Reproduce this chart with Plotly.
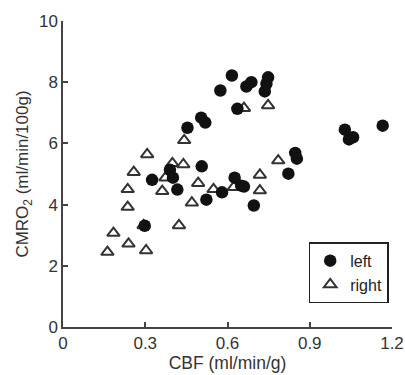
import plotly.graph_objects as go

left_x = [0.616, 0.574, 0.669, 0.687, 0.748, 0.742, 0.736, 0.636, 0.454, 0.504,
          0.519, 1.028, 1.043, 1.058, 1.166, 0.847, 0.853, 0.822, 0.506, 0.325,
          0.390, 0.401, 0.417, 0.523, 0.580, 0.626, 0.660, 0.650, 0.696, 0.298]
left_y = [8.22, 7.73, 7.86, 8.00, 8.16, 7.95, 7.70, 7.13, 6.51, 6.84,
          6.68, 6.45, 6.13, 6.20, 6.58, 5.69, 5.50, 5.01, 5.25, 4.81,
          5.14, 4.88, 4.49, 4.16, 4.40, 4.88, 4.59, 4.62, 3.97, 3.31]

right_x = [0.162, 0.184, 0.239, 0.303, 0.236, 0.236, 0.258, 0.307, 0.294, 0.362,
           0.374, 0.399, 0.439, 0.442, 0.423, 0.470, 0.493, 0.549, 0.623, 0.660,
           0.748, 0.718, 0.718, 0.785]
right_y = [2.45, 3.07, 2.72, 2.50, 3.92, 4.50, 5.06, 5.64, 3.32, 4.44,
           4.88, 5.35, 5.31, 6.10, 3.32, 4.06, 4.70, 4.50, 4.57, 7.15,
           7.24, 4.97, 4.46, 5.44]

x_ticks = [0, 0.3, 0.6, 0.9, 1.2]
x_tick_labels = ["0", "0.3", "0.6", "0.9", "1.2"]
y_ticks = [0, 2, 4, 6, 8, 10]

FONT = "Liberation Sans, Arial"

fig = go.Figure()
fig.add_trace(go.Scatter(
    x=right_x, y=right_y, mode="markers", name="right",
    marker=dict(symbol="triangle-up-open", size=11, color="#333333",
                line=dict(width=2, color="#333333")),
))
fig.add_trace(go.Scatter(
    x=left_x, y=left_y, mode="markers", name="left",
    marker=dict(symbol="circle", size=12.5, color="#111111"),
))

axis_common = dict(
    showgrid=False, zeroline=False, showline=True, linecolor="#444444",
    linewidth=1.5, ticks="inside", ticklen=5, tickwidth=1.5, tickcolor="#444444",
    tickfont=dict(family=FONT, size=17, color="#333333"),
    automargin=False,
)

fig.update_layout(
    width=405, height=375,
    margin=dict(l=63, r=13, t=21, b=48),
    paper_bgcolor="white", plot_bgcolor="white",
    showlegend=True,
    legend=dict(x=0.99, y=0.277, xanchor="right", yanchor="top",
                bordercolor="#222222", borderwidth=1.5, bgcolor="white",
                traceorder="reversed",
                font=dict(family=FONT, size=16, color="#222222"),
                itemwidth=30, tracegroupgap=0),
    xaxis=dict(range=[0, 1.2], tickvals=x_ticks, ticktext=x_tick_labels,
               title=dict(text="CBF (ml/min/g)", standoff=2,
                          font=dict(family=FONT, size=17.5, color="#333333")),
               **axis_common),
    yaxis=dict(range=[0, 10], tickvals=y_ticks,
               title=dict(text="CMRO<sub>2</sub> (ml/min/100g)", standoff=6,
                          font=dict(family=FONT, size=17, color="#333333")),
               **axis_common),
)

fig.write_html("out.html")
